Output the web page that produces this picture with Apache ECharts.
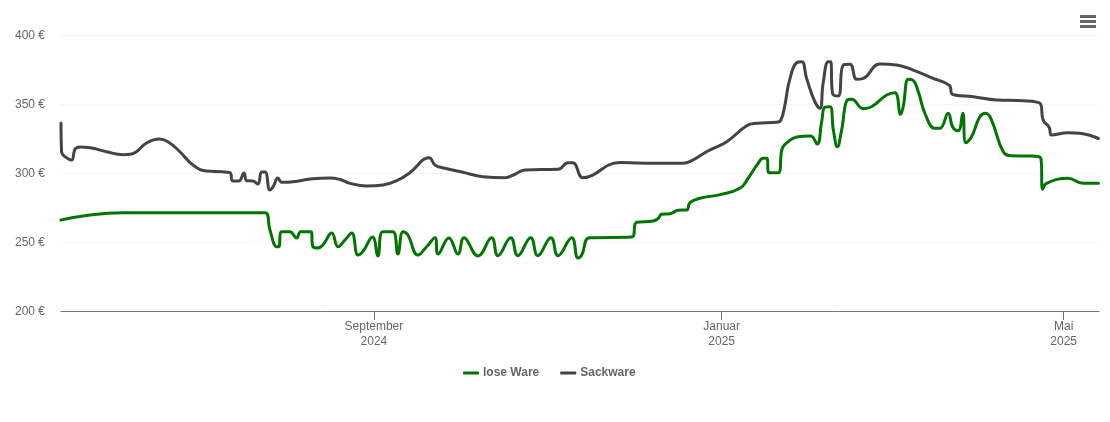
<!DOCTYPE html>
<html>
<head>
<meta charset="utf-8">
<script src="https://cdn.jsdelivr.net/npm/echarts@6/dist/echarts.min.js"></script>
<style>
  html, body { margin: 0; padding: 0; background: #fff; }
  #chart { width: 1110px; height: 422px; }
</style>
</head>
<body>
<div id="chart"></div>
<script>
// x = Tage seit 1. September 2024
const tickDays = [0, 122, 242];
const tickLabels = ["September\n2024", "Januar\n2025", "Mai\n2025"];

const loseDays = [-109.8, -99.6, -88.1, -38.2, -36.5, -34.1, -33.4, -32.4, -29.5, -27.1, -25.7, -22.1, -21.4, -19.6, -17.9, -14.8, -12.6, -10.2, -7.8, -5.6, -3.9, -0.5, 1.4, 3.1, 6.6, 8.4, 10.2, 11.9, 15.4, 18.5, 21.4, 22.5, 26.3, 29.5, 31.6, 36.5, 41.3, 43.5, 48.0, 50.5, 55.0, 57.5, 62.1, 64.6, 69.4, 71.6, 72.9, 75.8, 90.4, 92.2, 98.0, 99.8, 100.9, 103.9, 106.8, 109.7, 110.9, 114.4, 121.4, 128.4, 131.3, 134.8, 136.6, 137.8, 138.6, 141.9, 143.1, 144.2, 148.8, 153.2, 155.5, 157.1, 158.2, 160.0, 161.2, 162.6, 164.1, 166.1, 167.6, 171.7, 174.6, 179.9, 182.8, 184.8, 185.7, 187.5, 189.0, 191.0, 193.3, 196.8, 198.6, 201.5, 203.1, 205.0, 206.6, 207.7, 209.7, 212.6, 214.7, 216.7, 220.8, 223.8, 230.2, 234.0, 234.6, 236.0, 243.5, 248.8, 254.2];
const losePrices = [265.9, 269.6, 271.2, 271.2, 258.7, 246.6, 246.6, 257.5, 257.5, 252.9, 257.5, 257.5, 246.6, 245.7, 247.8, 256.5, 246.6, 251.4, 256.5, 240.6, 243, 253.6, 239.9, 257.5, 257.5, 241.3, 257.5, 255.1, 240.6, 246.6, 253.1, 241.3, 252.9, 241.3, 253.1, 239.9, 253.1, 240.1, 253.1, 240.1, 253.1, 240.1, 253.1, 240.1, 253.1, 238.4, 240.6, 253.1, 253.6, 264.3, 265.2, 267.2, 270.1, 270.5, 273, 273.2, 278.5, 281.7, 284.3, 288.9, 296.2, 307, 310.6, 310.6, 300.2, 300.2, 316.7, 320.8, 326.3, 326.8, 321, 337.2, 347.6, 348, 331.2, 319, 331.2, 352.9, 353.4, 346.6, 348, 356.5, 358.2, 342.5, 348, 367.9, 367.4, 358.9, 343.3, 332.4, 332.4, 343.3, 333.1, 330.6, 343.3, 322, 326.3, 340.8, 343.3, 338.4, 315.4, 312.5, 312.3, 310.6, 288.2, 292.5, 296.2, 292.5, 292.5];

const sackDays = [-109.8, -109.6, -108.4, -106.1, -104.9, -103.2, -99.6, -93.8, -88.1, -85.0, -79.8, -75.4, -72.3, -68.1, -63.5, -58.7, -53.4, -50.5, -49.6, -47.4, -45.6, -44.6, -42.5, -40.7, -39.4, -38.2, -36.5, -35.4, -33.7, -32.4, -28.4, -21.4, -15.4, -11.9, -8.4, -2.6, 3.2, 8.0, 12.6, 19.4, 21.4, 24.9, 31.2, 38.2, 46.0, 49.5, 53.0, 64.6, 68.1, 69.8, 73.3, 76.8, 83.9, 86.9, 98.0, 108.5, 111.5, 116.7, 123.8, 130.8, 134.3, 141.3, 142.8, 144.2, 145.7, 148.3, 150.1, 151.8, 154.7, 156.5, 157.6, 159.4, 160.2, 160.9, 162.9, 164.7, 167.0, 169.4, 171.7, 177.5, 183.4, 189.2, 196.2, 201.9, 203.0, 210.3, 218.5, 227.8, 233.7, 234.8, 236.9, 237.8, 243.5, 247.7, 254.2];
const sackPrices = [336.2, 315.4, 311.8, 309.4, 317.2, 318.8, 318.3, 315.4, 313.3, 313.8, 321.7, 324.6, 322.7, 315.4, 305.8, 301.4, 300.9, 300.2, 294.2, 294.2, 300, 294.4, 294.2, 292, 300.7, 300.7, 287.7, 289.9, 296.4, 293.3, 293.7, 295.9, 296.4, 295.3, 292.5, 290.6, 291.3, 294.4, 300.2, 311.1, 305.8, 303.4, 300.5, 297.3, 296.6, 299.1, 302.2, 302.7, 307.5, 307.5, 296.6, 298.5, 307, 307.6, 307, 307, 308.9, 315.4, 322.7, 334.3, 336, 336.7, 338.4, 349.3, 366.2, 379.9, 380.6, 368.6, 351.7, 346.9, 365, 380.6, 380.6, 357.7, 355.8, 378.3, 378.8, 367.9, 368.6, 379, 378.3, 374.6, 368.6, 363.5, 357, 355.3, 352.9, 352.4, 350.5, 338.4, 333.1, 327.5, 329.2, 328.8, 325];

const zip = (xs, ys) => xs.map((x, i) => [x, ys[i]]);
const FONT = '"Liberation Sans", Arial, sans-serif';

const chart = echarts.init(document.getElementById("chart"), null, { renderer: "canvas" });

const lineSeries = (name, color, data) => ({
  name, type: "line", data, color,
  smooth: 0.45,
  symbol: "none", animation: false,
  lineStyle: { width: 3, color, cap: "round", join: "round" }
});

chart.setOption({
  animation: false,
  grid: { left: 61, right: 11, top: 35, bottom: 111 },
  legend: {
    top: 362, left: 458,
    itemWidth: 16, itemHeight: 3, itemGap: 21,
    icon: "roundRect",
    textStyle: { color: "#666", fontSize: 12, fontWeight: "bold", fontFamily: FONT, padding: [0, 0, 0, -1] },
    data: ["lose Ware", "Sackware"]
  },
  xAxis: {
    type: "value", min: -109.8, max: 254.4,
    splitLine: { show: false },
    axisLine: { lineStyle: { color: "#777", width: 1 } },
    axisTick: { customValues: tickDays, length: 9, lineStyle: { color: "#777" } },
    axisLabel: {
      customValues: tickDays,
      formatter: v => tickLabels[tickDays.indexOf(v)] || "",
      color: "#666", fontSize: 12, lineHeight: 15, fontFamily: FONT, margin: 8
    }
  },
  yAxis: {
    type: "value", min: 200, max: 400, interval: 50,
    axisLine: { show: false }, axisTick: { show: false },
    axisLabel: {
      formatter: "{value} €", color: "#666", fontSize: 12, fontFamily: FONT, margin: 16,
      verticalAlign: "top", lineHeight: 2
    },
    splitLine: { lineStyle: { color: "#eee", type: "dotted", width: 1 } }
  },
  graphic: [15, 20, 25].map(y => ({
    type: "rect", silent: true,
    shape: { x: 1080, y, width: 16, height: 3 },
    style: { fill: "#666" }
  })),
  series: [
    lineSeries("lose Ware", "#007500", zip(loseDays, losePrices)),
    lineSeries("Sackware", "#434348", zip(sackDays, sackPrices))
  ]
});

window.addEventListener("resize", () => chart.resize());
</script>
</body>
</html>
